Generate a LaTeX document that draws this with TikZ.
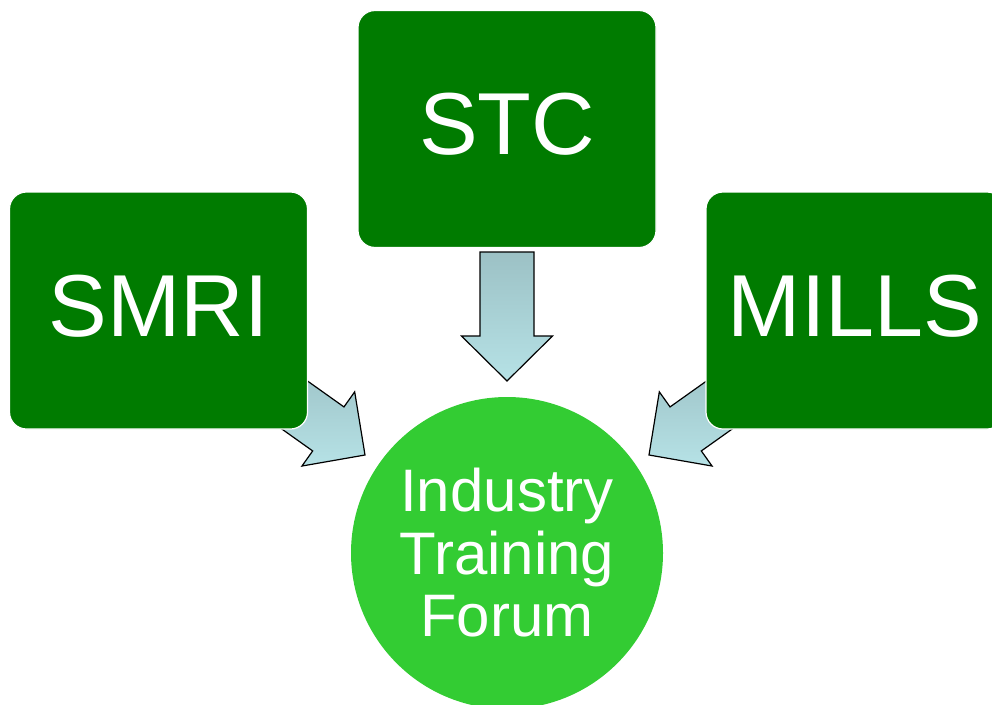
\documentclass[tikz,border=0pt]{standalone}
\usepackage{fontspec}
\setmainfont{Liberation Sans}
\definecolor{boxgreen}{RGB}{0,123,0}
\definecolor{circgreen}{RGB}{51,204,51}
\definecolor{arrtop}{RGB}{156,193,197}
\definecolor{arrbot}{RGB}{182,226,230}
\begin{document}
\begin{tikzpicture}[x=1pt,y=-1pt,
  srcbox/.style={rectangle, rounded corners=17pt, fill=boxgreen, draw=white, line width=1.2pt,
    minimum width=298pt, minimum height=237pt, inner sep=0pt, text=white,
    font=\fontsize{88}{92}\selectfont, text depth=10pt},
  hub/.style={circle, fill=circgreen, minimum size=312pt, inner sep=0pt, text=white,
    align=center, font=\fontsize{60}{62.5}\selectfont},
  blockarrow/.style={draw=black, line width=1.2pt, line join=miter, top color=arrtop, bottom color=arrbot}
]
\useasboundingbox (0,0) rectangle (992,704);
\clip (0,0) rectangle (992,704);
% arrow tip positions
\coordinate (tipL) at (365,455);
\coordinate (tipC) at (507,381);
\coordinate (tipR) at (649,455);
\def\arrowpath{(0,0) -- (45.5,-45) -- (27,-45) -- (27,-129) -- (-27,-129) -- (-27,-45) -- (-45.5,-45) -- cycle}
\begin{scope}[shift={(tipC)}]
  \path[blockarrow] \arrowpath;
\end{scope}
\begin{scope}[shift={(tipL)}, rotate=54.6]
  \path[blockarrow] \arrowpath;
\end{scope}
\begin{scope}[shift={(tipR)}, rotate=-54.6]
  \path[blockarrow] \arrowpath;
\end{scope}
% boxes
\node[srcbox] (smri) at (158.5,310.5) {SMRI};
\node[srcbox] (stc) at (507,129) {STC};
\node[srcbox] (mills) at (855,310.5) {MILLS};
% hub
\node[hub] (itf) at (507,553) {Industry\\Training\\Forum};
\end{tikzpicture}
\end{document}
